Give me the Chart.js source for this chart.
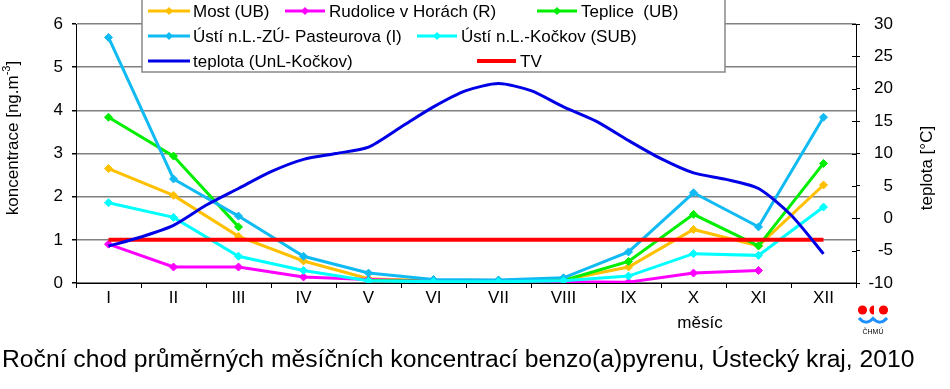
<!DOCTYPE html>
<html>
<head>
<meta charset="utf-8">
<script src="https://cdn.jsdelivr.net/npm/chart.js@4.4.1/dist/chart.umd.min.js"></script>
<style>
  body { margin: 0; background: #fff; }
</style>
</head>
<body>
<canvas id="c" width="950" height="389"></canvas>
<script>
let months = ['I', 'II', 'III', 'IV', 'V', 'VI', 'VII', 'VIII', 'IX', 'X', 'XI', 'XII'];

let most = [2.65, 2.03, 1.08, 0.51, 0.10, 0.05, 0.05, 0.07, 0.37, 1.24, 0.86, 2.27];
let rudolice = [0.90, 0.37, 0.37, 0.14, 0.08, 0.04, 0.03, 0.03, 0.02, 0.23, 0.29, null];
let teplice = [3.84, 2.94, 1.30, null, 0.06, 0.04, 0.04, 0.06, 0.50, 1.59, 0.86, 2.77];
let ustiZu = [5.69, 2.41, 1.55, 0.62, 0.23, 0.08, 0.07, 0.12, 0.72, 2.09, 1.30, 3.84];
let ustiKockov = [1.86, 1.52, 0.62, 0.29, 0.05, 0.03, 0.03, 0.05, 0.16, 0.68, 0.64, 1.76];
let limitTV = [1, 1, 1, 1, 1, 1, 1, 1, 1, 1, 1, 1];

// teplota - position in months (1 = I ... 12 = XII)
let tempMonth = [1, 1.5, 2, 2.5, 3, 3.5, 4, 4.5, 5, 5.5, 6, 6.5, 7, 7.5, 8, 8.5, 9, 9.5, 10, 10.5, 11, 11.5, 12];
let tempValue = [-4.3, -2.9, -1.1, 2.0, 4.6, 7.2, 9.1, 10.0, 11.0, 14.1, 17.2, 19.7, 20.8, 19.7, 17.2, 15.0, 12.0, 9.2, 7.0, 6.0, 4.6, 0.5, -5.5];

let concTicks = [0, 1, 2, 3, 4, 5, 6];
let tempTicks = [-10, -5, 0, 5, 10, 15, 20, 25, 30];

const FONT = "'Liberation Sans', Arial, sans-serif";

function series(label, data, color, order) {
  return {
    label: label,
    data: data,
    borderColor: color,
    backgroundColor: color,
    borderWidth: 3,
    pointStyle: 'rectRot',
    pointRadius: 4,
    pointBorderWidth: 1,
    spanGaps: false,
    order: order,
    yAxisID: 'y'
  };
}

// legend layout: [lineStart, lineEnd, textX, y]
const legendPos = [
  [148, 190, 193, 11],
  [285, 325, 329, 11],
  [537, 577, 581, 11],
  [148, 190, 193, 36],
  [417, 457, 461, 36],
  [148, 190, 193, 61],
  [477, 516, 520, 61]
];

const extras = {
  id: 'extras',
  beforeDraw(chart) {
    const ctx = chart.ctx;
    ctx.save();
    ctx.fillStyle = '#fff';
    ctx.fillRect(0, 0, chart.width, chart.height);
    ctx.restore();
  },
  afterDraw(chart) {
    const ctx = chart.ctx;
    const y2 = chart.scales.y2;
    const area = chart.chartArea;
    ctx.save();

    // inner tick marks of right axis
    ctx.strokeStyle = '#000';
    ctx.lineWidth = 1;
    tempTicks.forEach(v => {
      const py = Math.round(y2.getPixelForValue(v)) + 0.5;
      ctx.beginPath();
      ctx.moveTo(area.right - 4, py);
      ctx.lineTo(area.right, py);
      ctx.stroke();
    });

    // legend
    ctx.fillStyle = '#fff';
    ctx.fillRect(142, -1, 583, 73);
    ctx.strokeStyle = '#888';
    ctx.lineWidth = 1.5;
    ctx.strokeRect(142, -1, 583, 73);
    ctx.font = '17px ' + FONT;
    ctx.textBaseline = 'middle';
    ctx.textAlign = 'left';
    chart.data.datasets.forEach((ds, i) => {
      const p = legendPos[i];
      ctx.strokeStyle = ds.borderColor;
      ctx.lineWidth = ds.borderWidth;
      ctx.beginPath();
      ctx.moveTo(p[0], p[3]);
      ctx.lineTo(p[1], p[3]);
      ctx.stroke();
      if (ds.pointRadius > 0) {
        ctx.fillStyle = ds.borderColor;
        ctx.beginPath();
        const cx = (p[0] + p[1]) / 2;
        ctx.moveTo(cx, p[3] - 4);
        ctx.lineTo(cx + 4, p[3]);
        ctx.lineTo(cx, p[3] + 4);
        ctx.lineTo(cx - 4, p[3]);
        ctx.closePath();
        ctx.fill();
      }
      ctx.fillStyle = '#000';
      ctx.fillText(ds.label, p[2], p[3] + 1);
    });

    // left axis title with superscript
    ctx.fillStyle = '#000';
    ctx.save();
    ctx.translate(13, 138);
    ctx.rotate(-Math.PI / 2);
    ctx.textBaseline = 'middle';
    ctx.textAlign = 'left';
    const t1 = 'koncentrace [ng.m', t2 = '-3', t3 = ']';
    ctx.font = '17px ' + FONT;
    const w1 = ctx.measureText(t1).width, w3 = ctx.measureText(t3).width;
    ctx.font = '11px ' + FONT;
    const w2 = ctx.measureText(t2).width;
    let x0 = -(w1 + w2 + w3) / 2;
    ctx.font = '17px ' + FONT;
    ctx.fillText(t1, x0, 0);
    ctx.font = '11px ' + FONT;
    ctx.fillText(t2, x0 + w1, -6);
    ctx.font = '17px ' + FONT;
    ctx.fillText(t3, x0 + w1 + w2, 0);
    ctx.restore();

    // right axis title
    ctx.save();
    ctx.translate(927, 168);
    ctx.rotate(-Math.PI / 2);
    ctx.font = '17px ' + FONT;
    ctx.textAlign = 'center';
    ctx.textBaseline = 'middle';
    ctx.fillText('teplota [°C]', 0, 0);
    ctx.restore();

    // x axis title
    ctx.font = '17px ' + FONT;
    ctx.textAlign = 'center';
    ctx.textBaseline = 'middle';
    ctx.fillText('měsíc', 700, 323);

    // bottom title
    ctx.font = '24.7px ' + FONT;
    ctx.textAlign = 'left';
    ctx.textBaseline = 'alphabetic';
    ctx.fillText('Roční chod průměrných měsíčních koncentrací benzo(a)pyrenu, Ústecký kraj, 2010', 2, 367);

    // ČHMÚ logo
    ctx.fillStyle = '#ff0000';
    ctx.beginPath(); ctx.arc(862.5, 310, 4.6, 0, Math.PI * 2); ctx.fill();
    ctx.beginPath(); ctx.arc(883.5, 310, 4.6, 0, Math.PI * 2); ctx.fill();
    ctx.beginPath(); ctx.arc(874, 310, 4.6, Math.PI / 2, Math.PI * 1.5); ctx.closePath(); ctx.fill();
    ctx.strokeStyle = '#1e90ff';
    ctx.lineWidth = 3;
    ctx.beginPath();
    ctx.moveTo(859, 318);
    ctx.quadraticCurveTo(866, 326, 873, 318.5);
    ctx.quadraticCurveTo(880, 326, 887, 318);
    ctx.stroke();
    ctx.fillStyle = '#000';
    ctx.font = '7px ' + FONT;
    ctx.textAlign = 'center';
    ctx.fillText('ČHMÚ', 873, 334);

    ctx.restore();
  }
};

let tempPoints = tempMonth.map((m, i) => ({ x: m, y: tempValue[i] }));

new Chart('c', {
  type: 'line',
  data: {
    labels: months,
    datasets: [
      series('Most (UB)', most, '#ffc000', 6),
      series('Rudolice v Horách (R)', rudolice, '#ff00ff', 5),
      series('Teplice  (UB)', teplice, '#00ee00', 4),
      series('Ústí n.L.-ZÚ- Pasteurova (I)', ustiZu, '#10baf2', 3),
      series('Ústí n.L.-Kočkov (SUB)', ustiKockov, '#00ffff', 2),
      {
        label: 'teplota (UnL-Kočkov)',
        data: tempPoints,
        borderColor: '#0000e6',
        backgroundColor: '#0000e6',
        borderWidth: 3,
        pointRadius: 0,
        tension: 0.25,
        order: 0,
        xAxisID: 'xt',
        yAxisID: 'y2'
      },
      {
        label: 'TV',
        data: limitTV,
        borderColor: '#ff0000',
        backgroundColor: '#ff0000',
        borderWidth: 4,
        pointRadius: 0,
        order: 1,
        yAxisID: 'y'
      }
    ]
  },
  options: {
    responsive: false,
    animation: false,
    layout: { padding: { top: 24, right: 57, left: 0, bottom: 0 } },
    plugins: {
      legend: { display: false },
      tooltip: { enabled: false }
    },
    scales: {
      x: {
        type: 'category',
        offset: true,
        afterFit: s => { s.height = 106; },
        grid: { drawOnChartArea: false, offset: true, tickLength: 5, tickColor: '#000' },
        border: { color: '#000', width: 1 },
        ticks: { color: '#000', font: { family: FONT, size: 17 }, padding: 0, maxRotation: 0, autoSkip: false }
      },
      xt: {
        type: 'linear',
        display: false,
        min: 0.5,
        max: 12.5
      },
      y: {
        position: 'left',
        min: 0,
        max: 6,
        afterFit: s => { s.width = 76; },
        afterBuildTicks: s => { s.ticks = concTicks.map(v => ({ value: v })); },
        grid: { color: '#808080', lineWidth: 1.5, tickLength: 4, tickColor: '#000' },
        border: { color: '#000', width: 1 },
        ticks: { color: '#000', font: { family: FONT, size: 17 }, padding: 9 }
      },
      y2: {
        position: 'right',
        min: -10,
        max: 30,
        afterFit: s => { s.width = 37; },
        afterBuildTicks: s => { s.ticks = tempTicks.map(v => ({ value: v })); },
        grid: { drawOnChartArea: false, tickLength: 4, tickColor: '#000' },
        border: { color: '#000', width: 1 },
        ticks: { color: '#000', font: { family: FONT, size: 17 }, crossAlign: 'far', padding: 4 }
      }
    }
  },
  plugins: [extras]
});
</script>
</body>
</html>
